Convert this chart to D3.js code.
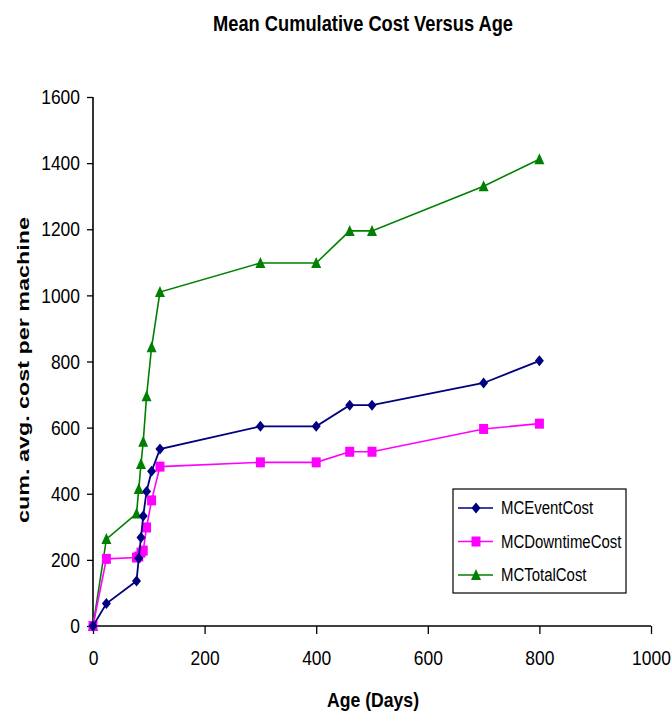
<!DOCTYPE html>
<html>
<head>
<meta charset="utf-8">
<script src="https://cdn.jsdelivr.net/npm/d3@7"></script>
<style>
  body { margin: 0; background: #fff; }
  svg { display: block; }
  text { font-family: "Liberation Sans", Arial, sans-serif; }
</style>
</head>
<body>
<svg id="chart" width="672" height="718"></svg>
<script>
// data
var ages = [0, 24, 78, 82, 86, 90, 96, 105, 120, 300, 400, 460, 500, 700, 800];
var eventCost = [0, 68, 136, 205, 268, 333, 407, 468, 535, 604, 604, 668, 668, 735, 802];
var downtimeCost = [0, 203, 207, 210, 222, 228, 298, 380, 482, 495, 495, 527, 527, 596, 612];
var totalCost = [0, 263, 340, 414, 490, 557, 695, 843, 1010, 1098, 1098, 1195, 1195, 1330, 1412];
var seriesNames = ["MCEventCost", "MCDowntimeCost", "MCTotalCost"];
var xTicks = [0, 200, 400, 600, 800, 1000];
var yTicks = [0, 200, 400, 600, 800, 1000, 1200, 1400, 1600];

var colors = ["#000080", "#ff00ff", "#008000"];

var svg = d3.select("#chart");

var x = d3.scaleLinear().domain([0, 1000]).range([93, 651]);
var y = d3.scaleLinear().domain([0, 1600]).range([626, 97]);

// the original picture is stretched vertically, so squeeze text sideways
function squeeze(sel, f) {
  sel.each(function() {
    var w = this.getComputedTextLength();
    d3.select(this).attr("textLength", w * f).attr("lengthAdjust", "spacingAndGlyphs");
  });
}

// title
svg.append("text")
  .attr("x", 363).attr("y", 31)
  .attr("text-anchor", "middle")
  .style("font-size", "22px").style("font-weight", "bold")
  .attr("textLength", 300).attr("lengthAdjust", "spacingAndGlyphs")
  .text("Mean Cumulative Cost Versus Age");

// axes
var yAxis = d3.axisLeft(y).tickValues(yTicks).tickSize(6).tickPadding(7).tickFormat(d3.format("d"));
var xAxis = d3.axisBottom(x).tickValues(xTicks).tickSize(8).tickPadding(16).tickFormat(d3.format("d"));

var gy = svg.append("g").attr("transform", "translate(" + x(0) + ",0)").call(yAxis);
var gx = svg.append("g").attr("transform", "translate(0," + y(0) + ")").call(xAxis);

[gx, gy].forEach(function(g) {
  g.select(".domain").attr("stroke", "#000").attr("stroke-width", 1.6);
  g.selectAll(".tick line").attr("stroke", "#000").attr("stroke-width", 1.3);
  g.selectAll(".tick text")
    .attr("fill", "#000")
    .style("font-family", "'Liberation Sans', Arial, sans-serif")
    .style("font-size", "21px")
    .call(squeeze, 0.83);
});
gy.select(".domain").attr("d", "M0," + y(1600) + "V" + y(0));
gx.select(".domain").attr("d", "M" + x(0) + ",0H" + x(1000));

// axis titles
svg.append("text")
  .attr("x", 373).attr("y", 707)
  .attr("text-anchor", "middle")
  .style("font-size", "21px").style("font-weight", "bold")
  .attr("textLength", 92).attr("lengthAdjust", "spacingAndGlyphs")
  .text("Age (Days)");

svg.append("text")
  .attr("transform", "translate(29,370) rotate(-90)")
  .attr("text-anchor", "middle")
  .attr("textLength", 306).attr("lengthAdjust", "spacingAndGlyphs")
  .style("font-size", "16px").style("font-weight", "bold")
  .text("cum. avg. cost per machine");

// marker shapes
function marker(i) {
  if (i == 0) return "M0,-5.5L4.5,0L0,5.5L-4.5,0Z";
  else if (i == 1) return "M-4.5,-5L4.5,-5L4.5,5L-4.5,5Z";
  else return "M0,-6L5,5L-5,5Z";
}

var allSeries = [eventCost, downtimeCost, totalCost];
var line = d3.line()
  .x(function(d, i) { return x(ages[i]); })
  .y(function(d) { return y(d); });

// draw total first so event/downtime sit on top
[2, 1, 0].forEach(function(s) {
  var g = svg.append("g");
  g.append("path")
    .datum(allSeries[s])
    .attr("d", line)
    .attr("fill", "none")
    .attr("stroke", colors[s])
    .attr("stroke-width", s == 0 ? 1.8 : 1.6);
  g.selectAll(".pt")
    .data(allSeries[s])
    .enter().append("path")
    .attr("class", "pt")
    .attr("transform", function(d, i) { return "translate(" + x(ages[i]) + "," + y(d) + ")"; })
    .attr("d", marker(s))
    .attr("fill", colors[s]);
});

// legend
var leg = svg.append("g").attr("transform", "translate(453,489)");
leg.append("rect")
  .attr("width", 173).attr("height", 104)
  .attr("fill", "#fff").attr("stroke", "#000").attr("stroke-width", 1.2);

seriesNames.forEach(function(name, i) {
  var yy = 19 + i * 33.5;
  leg.append("line")
    .attr("x1", 5).attr("x2", 40).attr("y1", yy).attr("y2", yy)
    .attr("stroke", colors[i]).attr("stroke-width", 1.6);
  leg.append("path")
    .attr("transform", "translate(23," + yy + ")")
    .attr("d", marker(i))
    .attr("fill", colors[i]);
  leg.append("text")
    .attr("x", 48).attr("y", yy).attr("dy", "0.35em")
    .style("font-size", "18px")
    .text(name)
    .call(squeeze, 0.83);
});
</script>
</body>
</html>
